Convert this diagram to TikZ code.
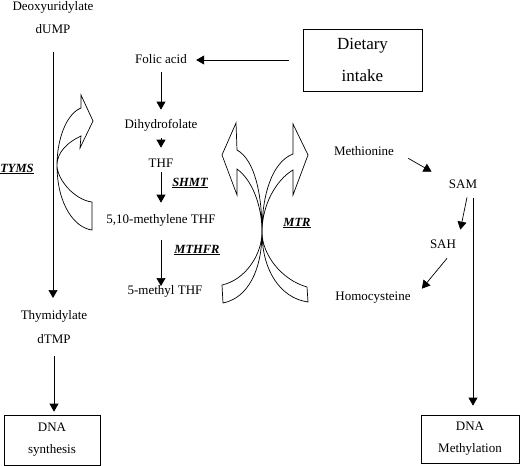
\documentclass[tikz,border=0pt]{standalone}
\usepackage{fontspec}
\setmainfont{Liberation Serif}
\usetikzlibrary{arrows.meta}

\begin{document}
\begin{tikzpicture}[x=1pt, y=-1pt, line width=0.7pt,
  >={Triangle[length=8pt,width=9pt]},
  lbl/.style={inner sep=0pt, text height=9pt, text depth=3pt, font=\fontsize{13}{15}\selectfont},
  enz/.style={lbl, font=\fontsize{12.5}{15}\selectfont\bfseries\itshape},
  box/.style={draw, align=center, inner sep=0pt}]

\useasboundingbox (0,0) rectangle (520,466);

% Left column
\node [lbl]  (deoxy)   at  (53, 7.5)  {Deoxyuridylate};
\node [lbl]  (dump)    at  (53, 30)   {dUMP};
\node [lbl]  (thymid)  at  (54, 316)  {Thymidylate};
\node [lbl]  (dtmp)    at  (54, 340)  {dTMP};
\node [box, minimum width=96pt, minimum height=50pt, font=\fontsize{13}{22}\selectfont]
             (dnasyn)  at  (52, 440)  {DNA\\synthesis};
\node [enz]  (tyms)    at  (17, 169)  {\underline{TYMS}};

\draw   [->, shorten <=16pt, shorten >=18pt]   (dump) -- (dump |- thymid);
\draw   [->, shorten <=10pt, shorten >=3pt]    (dtmp) -- (dtmp |- dnasyn.north);

% Folate column
\node [box, minimum width=119pt, minimum height=62pt, font=\fontsize{17}{32}\selectfont]
             (diet)      at  (362.5, 60)  {Dietary\\intake};
\node [lbl]  (folic)     at  (161, 60)    {Folic acid};
\node [lbl]  (dihydro)   at  (161, 125)   {Dihydrofolate};
\node [lbl]  (thf)       at  (161, 164)   {THF};
\node [lbl]  (methylene) at  (161, 220)   {5,10-methylene THF};
\node [lbl]  (methyl)    at  (165, 291)   {5-methyl THF};
\node [enz]  (shmt)      at  (190, 183)   {\underline{SHMT}};
\node [enz]  (mthfr)     at  (197, 250)   {\underline{MTHFR}};
\node [enz]  (mtr)       at  (297, 223)   {\underline{MTR}};

\draw   [->, shorten <=14pt, shorten >=9pt]    (diet.west |- folic.east) -- (folic.east);
\draw   [->, shorten <=6pt, shorten >=9pt]     (folic) -- (dihydro);
\draw   [->, shorten <=7pt, shorten >=10pt]    (dihydro) -- (thf);
\draw   [->, shorten <=2pt, shorten >=11pt]    (thf) -- (methylene);
\draw   [->, shorten <=14pt, shorten >=5pt]    (methylene) -- (methylene |- methyl);

% Methionine cycle
\node [lbl]  (methionine) at  (364, 152)  {Methionine};
\node [lbl]  (sam)        at  (463, 185)  {SAM};
\node [lbl]  (sah)        at  (443, 245)  {SAH};
\node [lbl]  (homo)       at  (373, 297)  {Homocysteine};
\node [box, minimum width=98pt, minimum height=48pt, font=\fontsize{13}{22}\selectfont]
              (dnameth)   at  (470, 439)  {DNA\\Methylation};

\draw   [->]   ([xshift=14pt]methionine.south east) -- ([xshift=-17pt,yshift=7pt]sam.north west);
\draw   [->]   ([xshift=4pt,yshift=-6pt]sam.south) -- ([xshift=4pt,yshift=9pt]sah.north east);
\draw   [->]   ([xshift=4pt,yshift=-7pt]sah.south) -- ([xshift=11pt,yshift=2pt]homo.north east);
\draw   [->]   ([xshift=10pt,yshift=-7pt]sam.south) -- ([xshift=3pt,yshift=9pt]dnameth.north);

% -------- Curved block arrows -----------
% TYMS
\draw (81,108) -- (81,95) -- (93,121) -- (80,148) -- (81,136)
  .. controls (68,142) and (57,152) .. (57,165)
  .. controls (57,180) and (75,200) .. (92,202)
  -- (92,230)
  .. controls (75,228) and (57,205) .. (57,165)
  .. controls (57,140) and (66,114) .. (81,108) -- cycle;

% MTR, right hand
\draw (293,154) -- (293,124) -- (308,155) -- (293,195) -- (293,170)
  .. controls (276,180) and (262,205) .. (262,232)
  .. controls (262,255) and (282,280) .. (307,287)
  -- (308,302)
  .. controls (280,298) and (262,270) .. (262,232)
  .. controls (262,195) and (272,162) .. (293,154) -- cycle;

% MTR, left hand
\draw (237,150) -- (236,123) -- (222,155) -- (237,195) -- (237,169)
  .. controls (252,180) and (262,205) .. (262,232)
  .. controls (262,255) and (245,280) .. (222,285)
  -- (223,303)
  .. controls (248,298) and (262,270) .. (262,232)
  .. controls (262,195) and (255,160) .. (237,150) -- cycle;

\end{tikzpicture}
\end{document}
